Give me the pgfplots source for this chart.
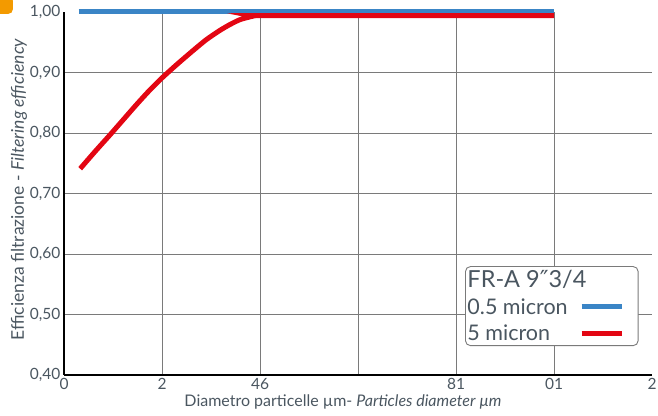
\documentclass[border=0pt]{standalone}
\usepackage{fontspec}
\setmainfont{Lato}
\newfontfamily\dejavu{DejaVu Sans}
\usepackage{pgfplots}
\pgfplotsset{compat=1.18}

\definecolor{txtgray}{HTML}{4A5660}
\definecolor{gridgray}{HTML}{7A7A7A}
\definecolor{lineblue}{HTML}{3A85C6}
\definecolor{linered}{HTML}{E30613}
\definecolor{badge}{HTML}{F39A00}

\begin{document}
\begin{tikzpicture}
    %% axis box is 588 x 363 bp, as in the reference
    \begin{axis}[
        name=ax,
        width=588bp, height=363bp, scale only axis,
        xmin=0, xmax=12, ymin=0.4, ymax=1.0,
        clip=false,
        axis x line*=bottom, axis y line*=left,
        axis line style={black, line width=2.5bp, -},
        xtick={2,4,6,8,10},
        xticklabels={2,46,,81,01},
        extra x ticks={0,12},
        extra x tick labels={0,2},
        extra x tick style={grid=none},
        ytick={0.5,0.6,0.7,0.8,0.9},
        yticklabels={{0,50},{0,60},{0,70},{0,80},{0,90}},
        extra y ticks={0.4,1.0},
        extra y tick labels={{0,40},{1,00}},
        extra y tick style={grid=none},
        major tick length=0pt,
        grid=major,
        grid style={gridgray, line width=0.9bp},
        ticklabel style={font=\fontsize{15.5bp}{18bp}\selectfont, text=txtgray},
        xlabel={Diametro particelle µm- \textit{Particles diameter µm}},
        ylabel={Efficienza filtrazione - \textit{Filtering efficiency}},
        xlabel style={font=\fontsize{16bp}{18bp}\selectfont, text=txtgray, xshift=-15bp, yshift=2bp},
        ylabel style={font=\fontsize{17.5bp}{20bp}\selectfont, text=txtgray, xshift=4bp, yshift=-4bp},
        legend plot pos=right,
        legend cell align=left,
        legend image code/.code={
            \draw[#1] (12bp,0bp) -- (52bp,0bp);
            \path (66bp,0bp);
        },
        legend style={
            at={(0.682,0.300)}, anchor=north west,
            draw=gridgray, line width=0.9bp, rounded corners=5bp,
            font=\fontsize{21.5bp}{23bp}\selectfont, text=txtgray,
            inner xsep=0bp, inner ysep=2bp, row sep=5bp,
        },
    ]
        \addlegendimage{empty legend}
        \addlegendentry{\rlap{\fontsize{23.5bp}{25bp}\selectfont FR-A 9{\dejavu ″}3/4}}

        %% 0.5 micron
        \addplot[lineblue, line width=5bp] coordinates {
            (0.3,1.0)(10,1.0)
        };
        \addlegendentry{0.5 micron}

        %% 5 micron
        \addplot[linered, line width=5bp, smooth, tension=0.4] coordinates {
            (0.33,0.741)(0.63,0.769)(0.94,0.797)(1.21,0.822)(1.48,0.847)
            (1.74,0.870)(2.0,0.891)(2.3,0.913)(2.63,0.936)(2.9,0.954)
            (3.17,0.969)(3.38,0.979)(3.58,0.987)(3.75,0.991)(3.92,0.994)
            (4.2,0.994)(10,0.994)
        };
        \addlegendentry{5 micron}
    \end{axis}

    %% corner of the orange badge, cropped in the reference
    \fill[badge, rounded corners=5bp]
        ([xshift=-75bp,yshift=16bp]ax.north west) rectangle
        ([xshift=-51bp,yshift=-2bp]ax.north west);

    \pgfresetboundingbox
    \path ([xshift=-64bp,yshift=-41bp]ax.south west)
        rectangle ([xshift=6bp,yshift=12bp]ax.north east);
\end{tikzpicture}
\end{document}
